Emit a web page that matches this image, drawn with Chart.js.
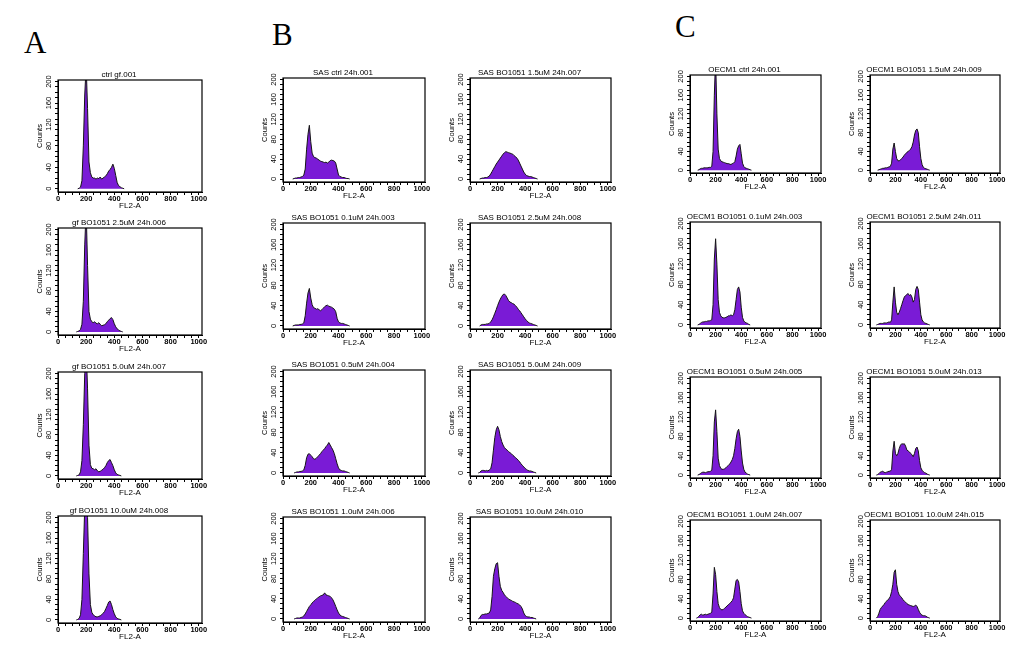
<!DOCTYPE html>
<html><head><meta charset="utf-8">
<script src="https://cdn.jsdelivr.net/npm/chart.js@4.4.0/dist/chart.umd.min.js"></script>
<style>
html,body{margin:0;padding:0;background:#fff;width:1024px;height:664px;overflow:hidden;position:relative}
.c{position:absolute}
.lab{position:absolute;font-family:"Liberation Serif","Times New Roman",serif;font-size:31px;line-height:1;color:#000}
</style></head><body>
<div class="lab" style="left:24px;top:27px">A</div>
<div class="lab" style="left:272px;top:19px">B</div>
<div class="lab" style="left:675px;top:11px">C</div>
<script>
// FL2-A channel bins
const FL2 = [50,60,70,80,90,100,110,120,130,140,150,160,170,180,190,200,210,220,230,240,250,260,270,280,290,300,310,320,330,340,350,360,370,380,390,400,410,420,430,440,450,460,470,480,490,500,510];
const X_TICKS = [0,50,100,150,200,250,300,350,400,450,500,550,600,650,700,750,800,850,900,950,1000];
const X_LABELS = [0,200,400,600,800,1000];
const Y_TICKS = [0,10,20,30,40,50,60,70,80,90,100,110,120,130,140,150,160,170,180,190,200];
const Y_LABELS = [0,40,80,120,160,200];

// Panel A (gf)
const A1 = [0,0,0,0,0,0,0,0,0,0, 1,3,15,80,175,230,150,50,30,22, 20,20,18,20,19,22,18,20,22,24, 28,33,36,40,46,38,25,12,6,4, 2,1,0,0,0,0,0];
const A2 = [0,0,0,0,0,0,0,0,0,1, 2,5,15,60,170,240,130,40,25,20, 18,20,17,16,18,15,12,13,14,16, 20,23,26,28,24,16,10,6,4,2, 1,0,0,0,0,0,0];
const A3 = [0,0,0,0,0,0,0,0,0,1, 2,8,30,100,200,250,170,60,22,15, 14,12,14,10,8,9,11,13,16,20, 26,30,32,26,20,12,6,3,2,1, 0,0,0,0,0,0,0];
const A4 = [0,0,0,0,0,0,0,0,0,1, 3,10,40,130,220,260,200,90,30,15, 10,8,6,6,7,8,10,13,16,22, 28,35,37,30,20,12,6,3,2,1, 0,0,0,0,0,0,0];
// Panel B (SAS)
const B1 = [0,0,0,1,2,2,3,3,4,5, 8,20,60,90,108,75,52,45,43,42, 40,38,36,35,34,33,34,32,34,37, 38,37,36,32,20,8,5,4,3,3, 2,1,1,0,0,0,0];
const B2 = [0,0,0,1,2,2,2,3,3,4, 6,20,45,65,74,55,42,36,35,33, 34,32,30,32,35,38,40,41,39,38, 37,35,33,28,15,8,6,5,5,4, 3,2,1,0,0,0,0];
const B3 = [0,0,0,0,1,2,2,3,3,4, 6,15,30,37,38,35,32,28,27,29, 32,35,38,42,45,48,52,55,60,55, 50,45,38,28,18,10,6,5,4,4, 3,2,1,0,0,0,0];
const B4 = [0,0,0,0,1,2,2,2,3,4, 6,10,15,20,25,28,32,35,37,40, 42,44,46,47,48,52,48,47,46,45, 42,38,32,25,18,12,8,6,5,4, 3,2,1,0,0,0,0];
const B5 = [0,0,0,1,2,2,3,3,4,6, 10,15,20,25,30,34,38,42,46,50, 53,55,54,53,52,51,50,47,45,42, 38,32,26,20,14,10,7,6,5,5, 4,3,2,1,0,0,0];
const B6 = [0,0,0,2,3,3,3,4,4,5, 8,12,18,25,32,40,47,53,58,62, 63,60,55,50,47,46,44,43,40,37, 33,30,26,22,18,14,11,8,6,5, 4,3,2,1,0,0,0];
const B7 = [0,0,1,4,5,5,4,5,4,6, 8,20,45,70,85,92,85,72,62,55, 50,47,45,42,40,38,35,33,30,28, 25,22,18,15,12,9,7,5,4,4, 3,2,1,0,0,0,0];
const B8 = [0,0,2,7,9,9,10,10,11,12, 18,45,85,100,110,112,85,65,57,53, 48,45,42,40,38,37,35,34,33,31, 30,28,25,20,12,7,5,4,4,3, 3,2,1,0,0,0,0];
// Panel C (OECM1)
const C1 = [0,0,1,3,4,4,5,5,5,5, 6,6,8,40,160,240,120,45,25,20, 18,17,16,15,14,14,13,12,14,15, 18,30,45,52,55,35,15,8,5,4, 3,2,1,0,0,0,0];
const C2 = [0,0,1,3,5,6,6,7,7,8, 8,9,10,40,130,170,120,50,25,18, 15,14,14,15,16,18,18,20,18,20, 30,50,70,75,65,35,15,8,5,4, 3,1,0,0,0,0,0];
const C3 = [0,0,1,3,5,6,6,5,6,7, 7,8,10,40,110,135,90,35,20,14, 12,12,13,15,18,20,23,27,32,40, 55,75,90,95,80,50,25,12,6,4, 2,1,0,0,0,0,0];
const C4 = [0,1,4,7,8,6,7,8,7,8, 9,10,12,50,105,90,55,30,22,18, 17,18,20,23,25,28,30,33,36,42, 60,78,80,75,55,30,15,10,7,5, 3,2,1,0,0,0,0];
const C5 = [0,0,1,2,3,4,4,5,5,6, 7,8,15,45,58,40,25,20,20,22, 25,28,32,35,38,40,42,45,50,60, 75,85,88,80,50,25,12,6,4,3, 2,1,0,0,0,0,0];
const C6 = [0,1,2,3,3,3,4,4,4,5, 6,5,10,45,75,45,25,20,25,32, 40,48,55,58,60,62,58,60,55,45, 50,70,76,70,45,20,10,6,4,3, 2,1,0,0,0,0,0];
const C7 = [0,1,3,6,7,8,6,5,6,7, 8,8,12,50,70,45,40,45,55,62, 65,64,65,60,52,50,48,45,42,38, 45,55,58,50,30,15,10,7,5,4, 2,1,0,0,0,0,0];
const C8 = [0,3,10,18,22,25,28,32,35,38, 40,45,55,70,95,100,70,55,48,45, 42,38,35,33,30,28,27,26,25,24, 25,27,24,18,12,8,6,5,5,4, 2,1,0,0,0,0,0];

const TITLES = [
  "ctrl gf.001","gf BO1051 2.5uM 24h.006","gf BO1051 5.0uM 24h.007","gf BO1051 10.0uM 24h.008",
  "SAS ctrl 24h.001","SAS BO1051 0.1uM 24h.003","SAS BO1051 0.5uM 24h.004","SAS BO1051 1.0uM 24h.006",
  "SAS BO1051 1.5uM 24h.007","SAS BO1051 2.5uM 24h.008","SAS BO1051 5.0uM 24h.009","SAS BO1051 10.0uM 24h.010",
  "OECM1 ctrl 24h.001","OECM1 BO1051 0.1uM 24h.003","OECM1 BO1051 0.5uM 24h.005","OECM1 BO1051 1.0uM 24h.007",
  "OECM1 BO1051 1.5uM 24h.009","OECM1 BO1051 2.5uM 24h.011","OECM1 BO1051 5.0uM 24h.013","OECM1 BO1051 10.0uM 24h.015"
];
const SERIES = [A1,A2,A3,A4,B1,B2,B3,B4,B5,B6,B7,B8,C1,C2,C3,C4,C5,C6,C7,C8];

// layout: plot box [left, top, right, x-axis line]
const COLS = {A:[58,202], B1:[283,425], B2:[470,611], C1:[690,821], C2:[870,1000]};
const ROWS = {A:[[80,192],[228,335],[372,479],[516,623]],
              B:[[78,182],[223,329],[370,476],[517,622]],
              C:[[75,173],[222,328],[377,478],[520,621]]};
const BOXES = [];
ROWS.A.forEach(r=>BOXES.push([COLS.A[0],r[0],COLS.A[1],r[1]]));
ROWS.B.forEach(r=>BOXES.push([COLS.B1[0],r[0],COLS.B1[1],r[1]]));
ROWS.B.forEach(r=>BOXES.push([COLS.B2[0],r[0],COLS.B2[1],r[1]]));
ROWS.C.forEach(r=>BOXES.push([COLS.C1[0],r[0],COLS.C1[1],r[1]]));
ROWS.C.forEach(r=>BOXES.push([COLS.C2[0],r[0],COLS.C2[1],r[1]]));

Chart.defaults.font.family = '"Liberation Sans", Arial, sans-serif';
Chart.defaults.color = '#000';

const framePlugin = {id:'frame', afterDraw(c){
  const a=c.chartArea, x=c.ctx; x.save(); x.strokeStyle='#000'; x.lineWidth=1.2;
  x.strokeRect(a.left,a.top,a.right-a.left,a.bottom-a.top); x.restore();
}};

function makeChart(title, counts, box){
  const [L,T,R,B] = box;
  const YW=22, TH=10, XH=18, RP=8;
  const div=document.createElement('div');
  div.className='c';
  div.style.left=(L-YW)+'px'; div.style.top=(T-TH)+'px';
  div.style.width=(R-L+YW+RP)+'px'; div.style.height=(B-T+TH+XH)+'px';
  const cv=document.createElement('canvas'); div.appendChild(cv); document.body.appendChild(div);
  new Chart(cv,{
    type:'line',
    data:{datasets:[{data:FL2.map((x,i)=>({x:x,y:counts[i]})), fill:'origin',
      backgroundColor:'#7a1bd6', borderColor:'#151515', borderWidth:1, pointRadius:0, tension:0,
      segment:{borderColor:ctx=>(ctx.p0.parsed.y===0&&ctx.p1.parsed.y===0)?'rgba(0,0,0,0)':undefined}}]},
    options:{responsive:true, maintainAspectRatio:false, animation:false, events:[],
      layout:{padding:{left:0,right:RP,top:0,bottom:0}},
      plugins:{legend:{display:false}, tooltip:{enabled:false},
        title:{display:true,text:title,font:{size:8,lineHeight:1.25,weight:'normal'},color:'#000',padding:0}},
      scales:{
        x:{type:'linear',min:0,max:1023,
          afterFit:s=>{s.height=XH;},
          afterBuildTicks:s=>{s.ticks=X_TICKS.map(v=>({value:v}));},
          ticks:{autoSkip:false,maxRotation:0,minRotation:0,padding:0,font:{size:7.5,weight:'bold',lineHeight:1},color:'#000',
            callback:v=>X_LABELS.includes(v)?String(v):''},
          grid:{drawOnChartArea:false,drawTicks:true,tickLength:3,color:'#000'},
          border:{display:true,color:'#000',width:1},
          title:{display:true,text:'FL2-A',font:{size:8,lineHeight:1},color:'#000',padding:0}},
        y:{type:'linear',min:-6,max:203,
          afterFit:s=>{s.width=YW;},
          afterBuildTicks:s=>{s.ticks=Y_TICKS.map(v=>({value:v}));},
          ticks:{autoSkip:false,minRotation:90,maxRotation:90,crossAlign:'center',padding:0,font:{size:7.5,lineHeight:1},color:'#000',
            callback:v=>Y_LABELS.includes(v)?String(v):''},
          grid:{drawOnChartArea:false,drawTicks:true,tickLength:3,color:'#000'},
          border:{display:true,color:'#000',width:1},
          title:{display:true,text:'Counts',font:{size:7.5,lineHeight:1},color:'#000',padding:0}}
      }},
    plugins:[framePlugin]
  });
}
SERIES.forEach((s,i)=>makeChart(TITLES[i], s, BOXES[i]));
</script>
</body></html>
